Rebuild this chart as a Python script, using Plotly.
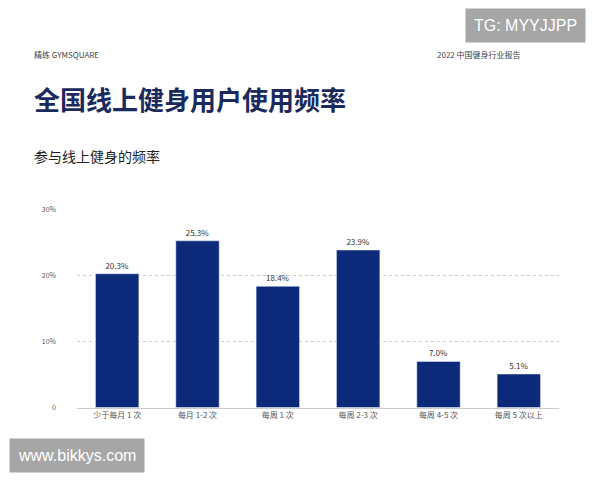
import plotly.graph_objects as go

categories = ["少于每月 1 次", "每月 1-2 次", "每周 1 次", "每周 2-3 次", "每周 4-5 次", "每周 5 次以上"]
values = [20.3, 25.3, 18.4, 23.9, 7.0, 5.1]
labels = ["20.3%", "25.3%", "18.4%", "23.9%", "7.0%", "5.1%"]
tick_vals = [0, 10, 20, 30]
tick_text = ["0", "10%", "20%", "30%"]

F = "Noto Sans CJK SC"
fig = go.Figure(go.Bar(
    x=categories, y=values, text=labels, textposition="outside",
    textfont=dict(size=8, color="#333", family=F), cliponaxis=False,
    marker=dict(color="#0d2a7a"), width=0.54))

fig.update_layout(
    width=600, height=480, margin=dict(l=0, r=0, t=0, b=0),
    paper_bgcolor="white", plot_bgcolor="white", showlegend=False,
    font=dict(family=F),
    xaxis=dict(domain=[69/600, 551/600], tickfont=dict(size=8, color="#555"),
               showline=True, linecolor="#ccc", ticks="", anchor="y"),
    yaxis=dict(domain=[78/480, 280/480], range=[0, 30], tickvals=tick_vals, ticktext=tick_text,
               tickfont=dict(size=7, color="#555"), showgrid=True, gridcolor="#ccc",
               griddash="dot", zeroline=False, ticklabelstandoff=20),
)
ann = [
    dict(x=24/600, y=1-41/480, text="精练 GYMSQUARE", size=8, color="#444", xanchor="left"),
    dict(x=515/600, y=1-41/480, text="2022 中国健身行业报告", size=8, color="#444", xanchor="right"),
    dict(x=24/600, y=1-86/480, text="<b>全国线上健身用户使用频率</b>", size=26, color="#1a2a5c", xanchor="left"),
    dict(x=24/600, y=1-145/480, text="参与线上健身的频率", size=14, color="#222", xanchor="left"),
]
for a in ann:
    fig.add_annotation(xref="paper", yref="paper", x=a["x"], y=a["y"], text=a["text"],
                       showarrow=False, xanchor=a["xanchor"], yanchor="middle",
                       font=dict(size=a["size"], color=a["color"], family=F))
fig.add_annotation(xref="paper", yref="paper", x=457/600, y=1-12/480, text="TG: MYYJJPP",
                   showarrow=False, xanchor="left", yanchor="middle", bgcolor="#a6a6a6",
                   borderpad=8, font=dict(size=16, color="white", family="Liberation Sans"))
fig.add_annotation(xref="paper", yref="paper", x=1/600, y=1-451/480, text="www.bikkys.com",
                   showarrow=False, xanchor="left", yanchor="middle", bgcolor="#a6a6a6",
                   borderpad=8, font=dict(size=16, color="white", family="Liberation Sans"))
fig.write_html("out.html")
